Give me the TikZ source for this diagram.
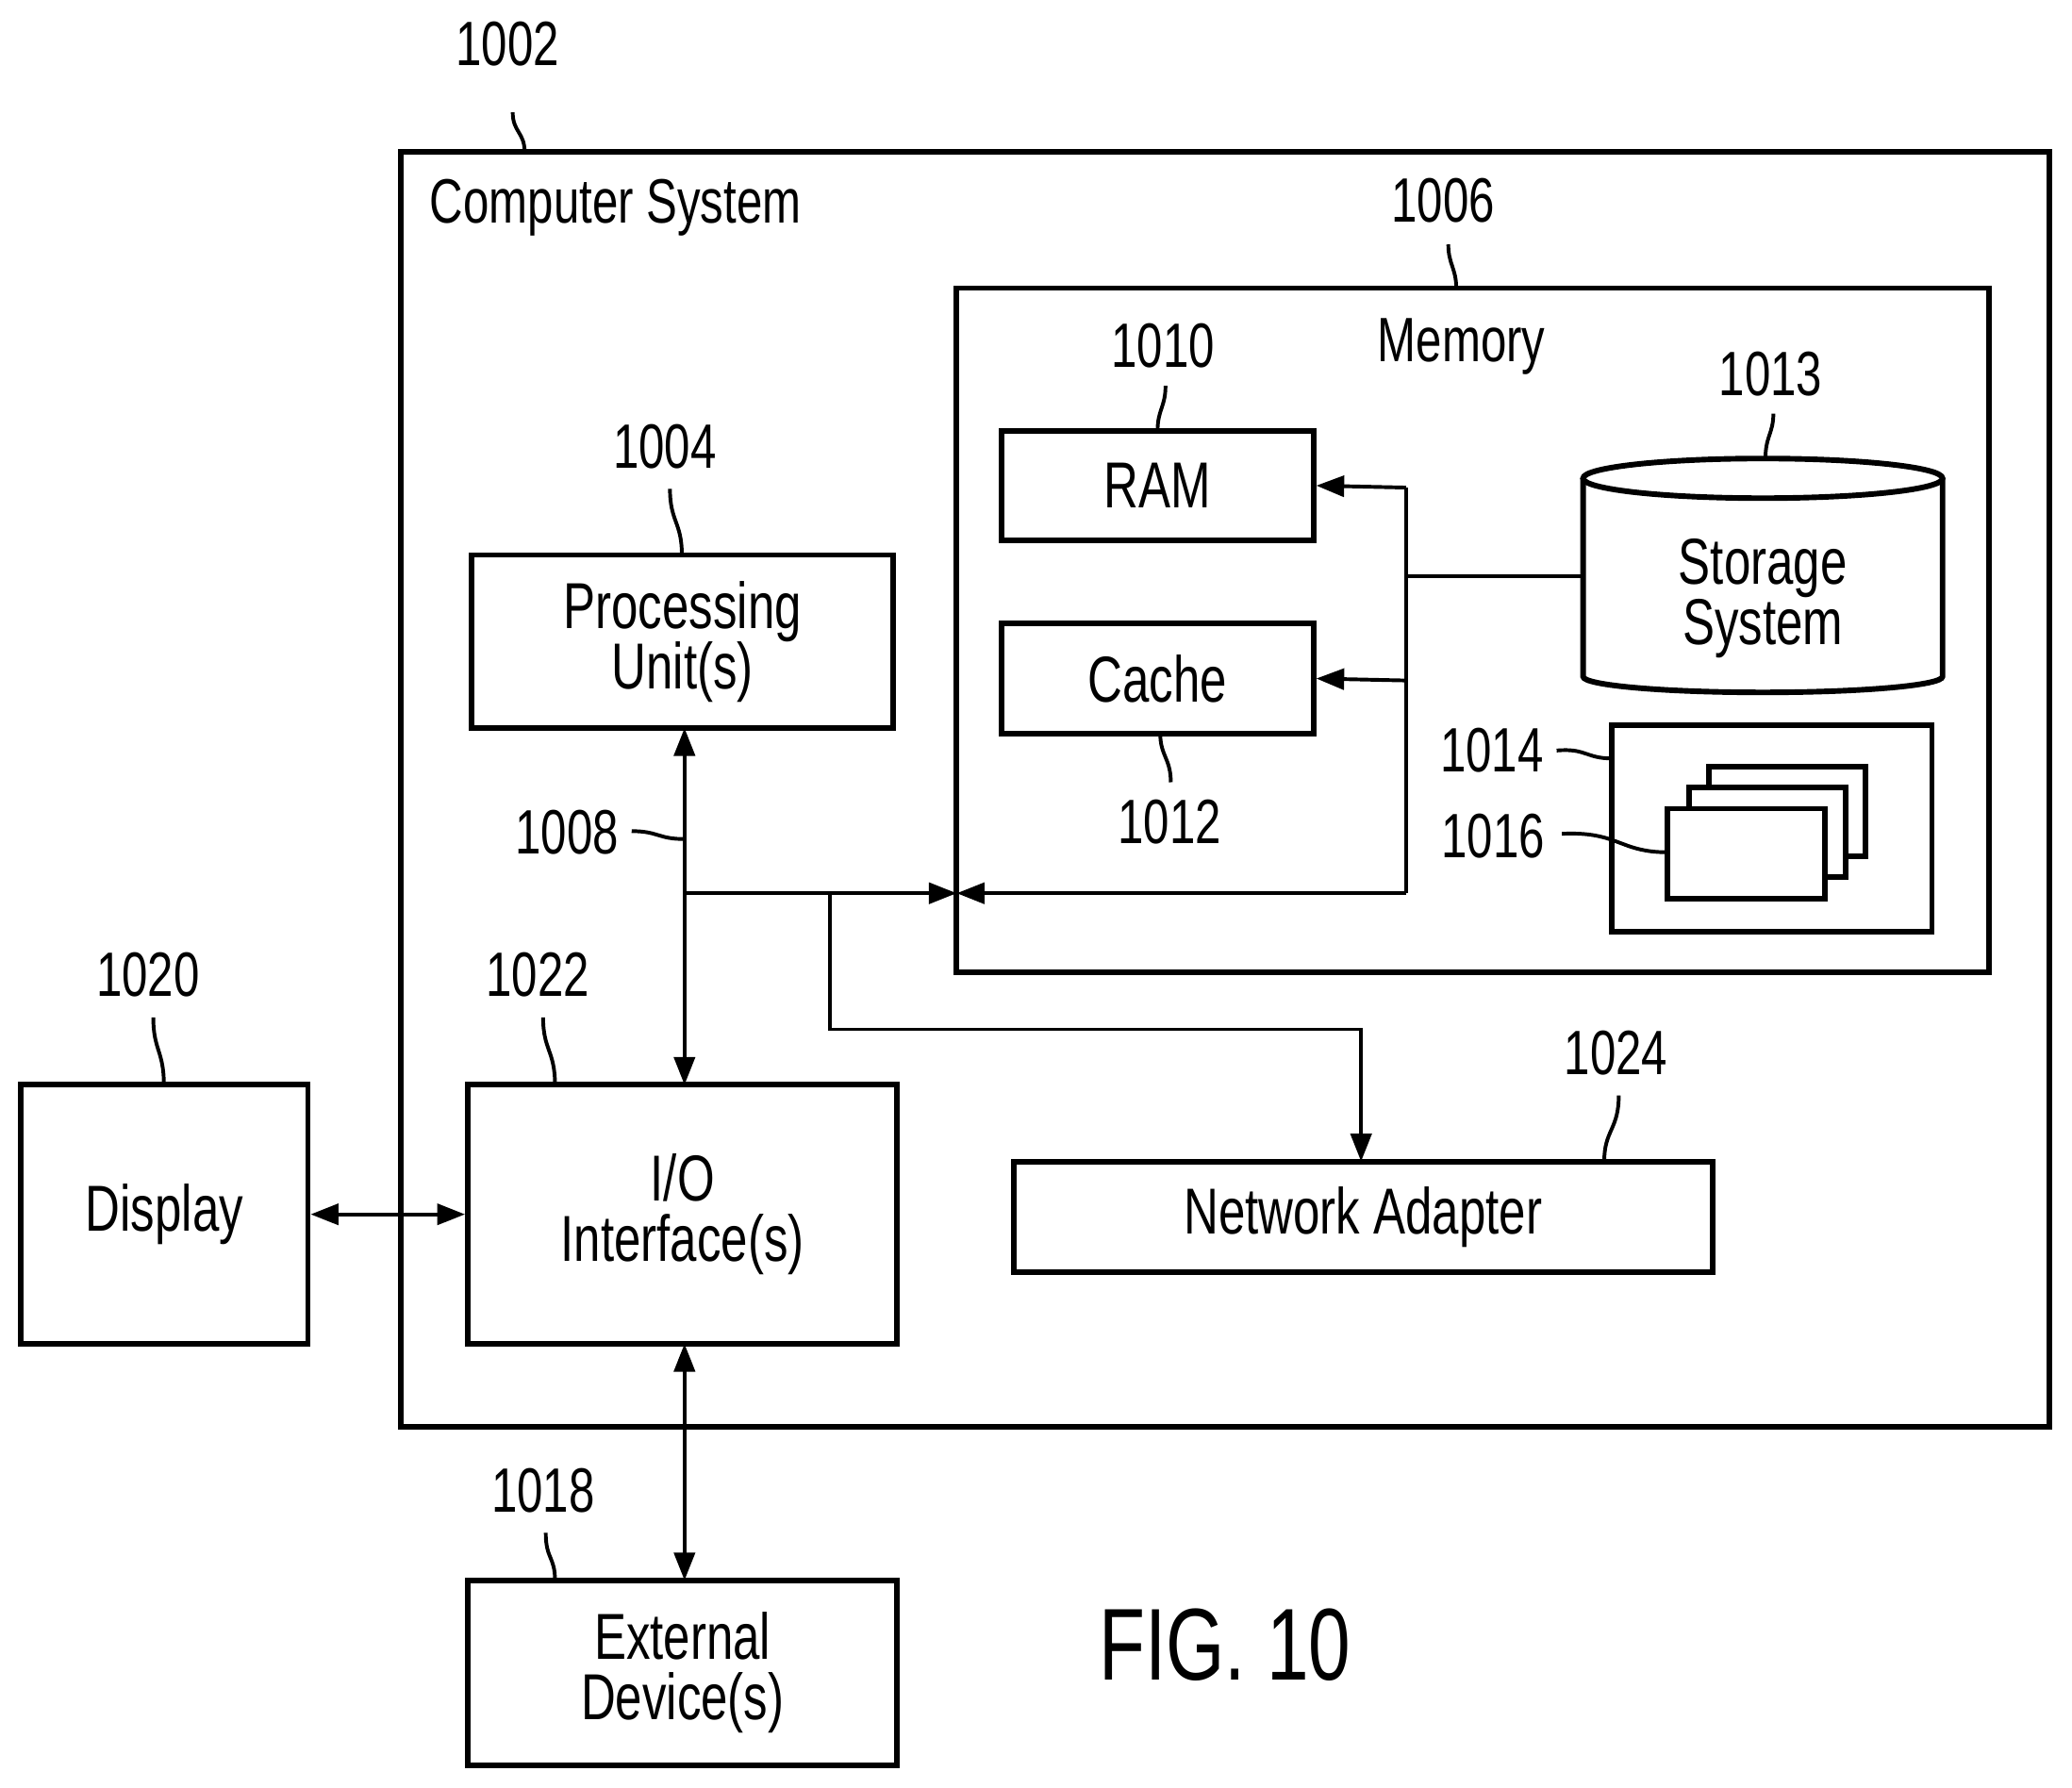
\documentclass[tikz,border=0pt]{standalone}
\usepackage{fontspec}
\setmainfont{Liberation Sans}[FakeStretch=0.74]
\usetikzlibrary{arrows.meta}
\begin{document}
\begin{tikzpicture}[x=0.02cm,y=-0.02cm,
  box/.style={draw,line width=2.4pt},
  lbl/.style={font=\fontsize{27}{30}\selectfont,inner sep=0pt},
  txt/.style={font=\fontsize{28}{30}\selectfont,align=center,inner sep=0pt},
  ld/.style={line width=1.6pt},
  con/.style={line width=1.6pt},
  ar/.style={-{Triangle[length=12pt,width=9pt]}},
  dar/.style={{Triangle[length=12pt,width=9pt]}-{Triangle[length=12pt,width=9pt]}}]
\useasboundingbox (0,0) rectangle (1568,1353);
% boxes
\draw[box] (303,115) rectangle (1551,1080);
\node[lbl,anchor=west] (cs) at (325,157) {Computer System};
\draw[box] (724,218) rectangle (1505,736);
\node[lbl] (mem) at (1106,262) {Memory};
\node[box,txt,minimum width=319*0.02cm,minimum height=131*0.02cm] (pu) at (516.5,485.5) {Processing\\[-4pt]Unit(s)};
\node[box,txt,minimum width=236*0.02cm,minimum height=83*0.02cm] (ram) at (876,367.5) {RAM};
\node[box,txt,minimum width=236*0.02cm,minimum height=83*0.02cm] (cache) at (876,513.5) {Cache};
% cylinder
\draw[box] (1198,362) -- (1198,512) arc[start angle=180,end angle=360,x radius=136,y radius=-12] -- (1470,362);
\draw[box] (1334,362) ellipse[x radius=136,y radius=15];
\node[txt] (st) at (1334,453) {Storage\\[-4pt]System};
\coordinate (stl) at (1198,436);
% 1014 box
\draw[box] (1220,549) rectangle (1462,705);
\draw[box,fill=white] (1293,580) rectangle (1412,648);
\draw[box,fill=white] (1278,596) rectangle (1397,664);
\draw[box,fill=white] (1262,612) rectangle (1381,680);
\node[box,txt,minimum width=217*0.02cm,minimum height=196*0.02cm] (disp) at (124.5,919) {Display};
\node[box,txt,minimum width=325*0.02cm,minimum height=196*0.02cm] (io) at (516.5,919) {I/O\\[-4pt]Interface(s)};
\node[box,txt,minimum width=529*0.02cm,minimum height=84*0.02cm] (na) at (1031.5,921) {Network Adapter};
\node[box,txt,minimum width=325*0.02cm,minimum height=140*0.02cm] (ext) at (516.5,1266) {External\\[-4pt]Device(s)};
% connectors
\coordinate (b1) at (518,676);
\coordinate (b2) at (628,676);
\coordinate (mleft) at (724,676);
\coordinate (m1) at (1064,676);
\coordinate (m2) at (1064,369);
\coordinate (m3) at (1064,515);
\coordinate (m4) at (1064,436);
\draw[con,dar] (518,551) -- (518,821);
\draw[con,ar] (b1) -- (mleft);
\draw[con,ar] (m1) -- (mleft);
\draw[con] (m1) -- (m2);
\draw[con,ar] (m2) -- (ram.east);
\draw[con,ar] (m3) -- (cache.east);
\draw[con] (m4) -- (stl);
\draw[con,ar] (b2) -- (628,779) -- (1030,779) -- (1030,879);
\draw[con,dar] (disp.east) -- (io.west);
\draw[con,dar] (518,1017) -- (518,1196);
% labels
\node[lbl] (l1002) at (384,33) {1002};
\draw[ld] (388,85) .. controls (388,100) and (397,100) .. (397,115);
\node[lbl] (l1006) at (1092,152) {1006};
\draw[ld] (1096,185) .. controls (1096,200) and (1102,203) .. (1102,218);
\node[lbl] (l1010) at (880,262) {1010};
\draw[ld] (882,292) .. controls (882,308) and (876,310) .. (876,326);
\node[lbl] (l1013) at (1340,283) {1013};
\draw[ld] (1342,313) .. controls (1342,328) and (1336,330) .. (1336,347);
\node[lbl] (l1004) at (503,338) {1004};
\draw[ld] (507,370) .. controls (507,395) and (516,395) .. (516,420);
\node[lbl] (l1012) at (885,622) {1012};
\draw[ld] (878,555) .. controls (878,572) and (886,574) .. (886,592);
\node[lbl] (l1014) at (1129,568) {1014};
\draw[ld] (1178,568) .. controls (1200,566) and (1200,574) .. (1220,574);
\node[lbl] (l1016) at (1130,633) {1016};
\draw[ld] (1182,631) .. controls (1225,629) and (1225,645) .. (1262,645);
\node[lbl] (l1008) at (429,630) {1008};
\draw[ld] (478,629) .. controls (498,629) and (498,635) .. (518,635);
\node[lbl] (l1020) at (112,738) {1020};
\draw[ld] (116,770) .. controls (116,795) and (124,795) .. (124,821);
\node[lbl] (l1022) at (407,738) {1022};
\draw[ld] (411,770) .. controls (411,795) and (420,795) .. (420,821);
\node[lbl] (l1024) at (1223,797) {1024};
\draw[ld] (1225,829) .. controls (1225,855) and (1214,855) .. (1214,879);
\node[lbl] (l1018) at (411,1128) {1018};
\draw[ld] (413,1160) .. controls (413,1180) and (420,1178) .. (420,1196);
\node[font=\fontsize{44}{46}\selectfont,inner sep=0pt] (fig) at (927,1245) {FIG. 10};
\end{tikzpicture}
\end{document}
